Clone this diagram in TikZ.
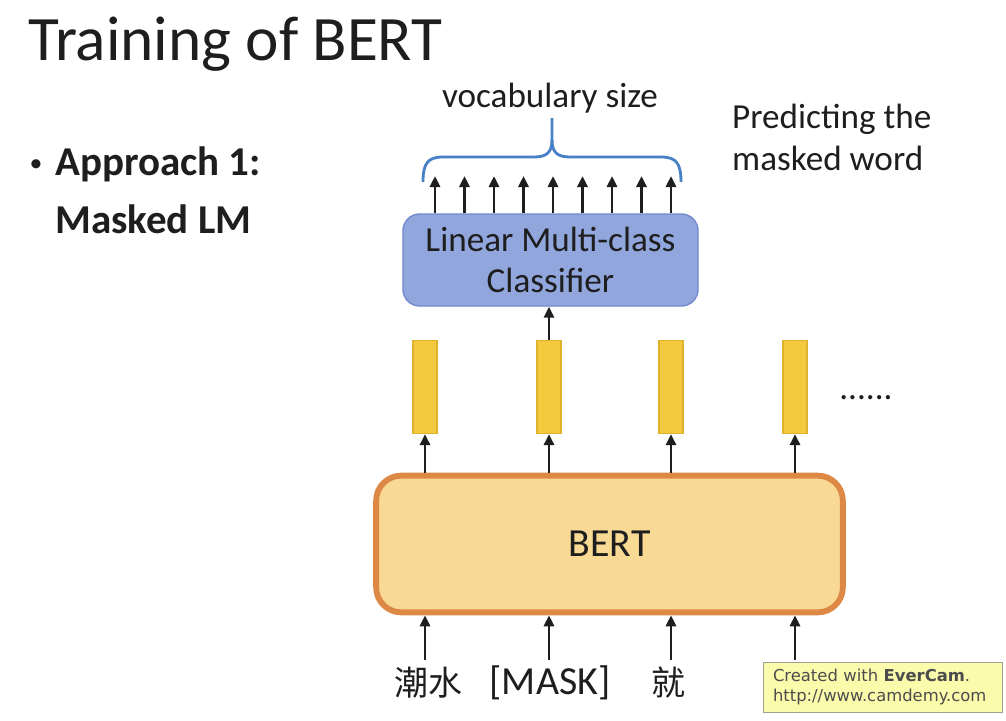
\documentclass[tikz,border=0pt]{standalone}
\usepackage{fontspec}
\setmainfont{Carlito}
\newfontfamily\cjk{Noto Sans CJK SC}
\newfontfamily\wmfont{DejaVu Sans}
\usetikzlibrary{arrows.meta}
\usetikzlibrary{calc}
\definecolor{txt}{RGB}{30,30,30}
\definecolor{clsfill}{RGB}{146,166,222}
\definecolor{clsline}{RGB}{112,138,204}
\definecolor{vecfill}{RGB}{243,202,62}
\definecolor{vecline}{RGB}{222,178,44}
\definecolor{bertfill}{RGB}{249,218,148}
\definecolor{bertline}{RGB}{222,136,70}
\definecolor{bracecol}{RGB}{72,128,200}
\definecolor{wmfill}{RGB}{251,251,172}
\definecolor{wmline}{RGB}{160,160,140}

\begin{document}
\begin{tikzpicture}[x=0.03cm, y=-0.03cm,
    arr/.style={line width=2.5pt, draw=txt, -{Triangle[length=3.3mm, width=3mm]}},
    vec/.style={draw=vecline, fill=vecfill, line width=1pt, inner sep=0pt, minimum width=0.72cm, minimum height=2.79cm},
    cls/.style={draw=clsline, fill=clsfill, line width=1.2pt, rounded corners=0.5cm, inner sep=0pt, minimum width=8.85cm, minimum height=2.76cm, align=center, text=txt, font=\fontsize{30}{35}\selectfont},
    bertbox/.style={draw=bertline, fill=bertfill, line width=5pt, rounded corners=0.75cm, inner sep=0pt, minimum width=14cm, minimum height=4.1cm, text=txt, font=\fontsize{34}{40}\selectfont},
    word/.style={anchor=base, inner sep=0pt, text=txt},
    wm/.style={draw=wmline, fill=wmfill, line width=0.8pt, inner xsep=0.3cm, inner ysep=0pt, text width=6.57cm, minimum height=1.5cm, align=left, text=black!70, font=\wmfont\fontsize{14}{17}\selectfont}]
      \fill[white] (0,0) rectangle (1006,720);
      \useasboundingbox (0,0) rectangle (1006,720);

      \node[anchor=base west, inner sep=0pt, text=txt, font=\fontsize{54}{60}\selectfont] (title) at (28,60) {Training of BERT};
      \node[anchor=base, inner sep=0pt, text=txt, font=\fontsize{22}{26}\selectfont] (bul) at (36,171) {\textbullet};
      \node[anchor=base west, inner sep=0pt, text=txt, font=\fontsize{35}{40}\selectfont\bfseries] (ap) at (55,175) {Approach 1:};
      \node[anchor=base west, inner sep=0pt, text=txt, font=\fontsize{35}{40}\selectfont\bfseries] (mlm) at (55,233) {Masked LM};

      \node[anchor=base, inner sep=0pt, text=txt, font=\fontsize{30}{36}\selectfont] (vocab) at (550,107) {vocabulary size};
      \node[anchor=base west, inner sep=0pt, text=txt, font=\fontsize{30}{36}\selectfont] (pred1) at (732,128) {Predicting the};
      \node[anchor=base west, inner sep=0pt, text=txt, font=\fontsize{30}{36}\selectfont] (pred2) at (732,170) {masked word};

      \node[cls] (cls) at (550.5,260) {Linear Multi-class\\Classifier};
      \node[bertbox] (bert) at (609.5,544) {BERT};

      \foreach \x [count=\i] in {425,549,671,795} {
        \node[vec] (v\i) at (\x,387) {};
        \coordinate (in\i) at (\x,660);
        \draw[arr] (in\i) -- (in\i |- bert.south);
        \draw[arr] (bert.north -| v\i) -- (v\i.south);
      }
      \draw[arr] (v2.north) -- (cls.south -| v2);

      \foreach \x [count=\i] in {435,464.5,494,523.5,553,582.5,612,641.5,671} {
        \coordinate (o\i) at (\x,176);
        \draw[arr] (cls.north -| o\i) -- (o\i);
      }

      \draw[bracecol, line width=2.4pt] (423,182) .. controls (423,163) and (428,157) .. (443,157) -- (534,157) .. controls (547,157) and (552,152) .. (552,140) -- (552,118);
      \draw[bracecol, line width=2.4pt] (681,182) .. controls (681,163) and (676,157) .. (661,157) -- (570,157) .. controls (557,157) and (552,152) .. (552,140);

      \node[anchor=base, inner sep=0pt, text=txt, font=\fontsize{30}{36}\selectfont] (dots) at (866,399) {......};

      \node[word, font=\cjk\fontsize{29}{34}\selectfont] (w1) at (428,695) {潮水};
      \node[word, font=\fontsize{34}{40}\selectfont] (w2) at (550,694) {[MASK]};
      \node[word, font=\cjk\fontsize{29}{34}\selectfont] (w3) at (668,695) {就};

      \node[wm] (wm) at (882.5,687) {Created with \textbf{EverCam}.\\http://www.camdemy.com};
    \end{tikzpicture}
\end{document}
